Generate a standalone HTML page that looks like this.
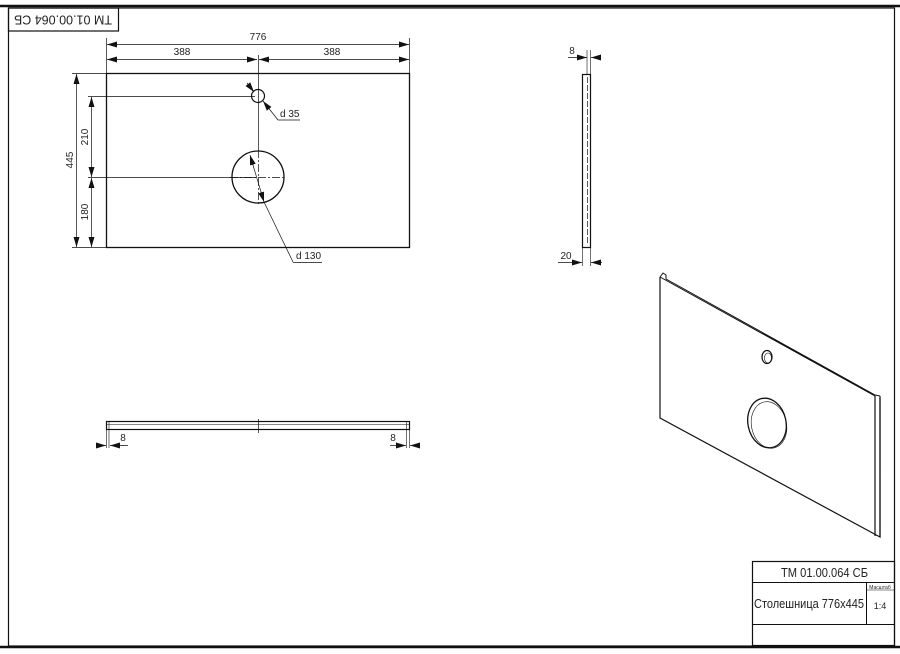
<!DOCTYPE html>
<html><head><meta charset="utf-8"><style>body{margin:0;background:#fff}svg{display:block}text{font-family:"Liberation Sans",sans-serif;fill:#222}</style></head><body>
<svg width="900" height="654" viewBox="0 0 900 654" xmlns="http://www.w3.org/2000/svg">
<defs><marker id="a" viewBox="0 0 10 6" refX="10" refY="3" markerWidth="10" markerHeight="6" orient="auto-start-reverse" markerUnits="userSpaceOnUse"><path d="M0,0L10,3L0,6z" fill="#111"/></marker></defs>
<g stroke="#111" fill="none">
<line x1="0" y1="6" x2="900" y2="6" stroke-width="2.5"/>
<line x1="0" y1="647" x2="900" y2="647" stroke-width="2.5"/>
<rect x="8.5" y="8" width="886" height="638" stroke-width="1.2"/>
<rect x="8.5" y="8" width="110" height="23" stroke-width="1.2"/>
<rect x="752.5" y="561.5" width="142" height="84" stroke-width="1.2"/>
<line x1="752" y1="582.5" x2="895" y2="582.5"/>
<line x1="752" y1="624.5" x2="895" y2="624.5"/>
<line x1="866.5" y1="582" x2="866.5" y2="624"/>
<line x1="866" y1="590" x2="895" y2="590" stroke-width="0.6"/>
<rect x="106.5" y="73.5" width="303" height="174" stroke-width="1.3"/>
<line x1="106.5" y1="38" x2="106.5" y2="73" stroke-width="0.7"/>
<line x1="409.5" y1="38" x2="409.5" y2="73" stroke-width="0.7"/>
<line x1="107" y1="44.5" x2="409" y2="44.5" stroke-width="0.7" marker-start="url(#a)" marker-end="url(#a)"/>
<line x1="107" y1="59.5" x2="257" y2="59.5" stroke-width="0.7" marker-start="url(#a)" marker-end="url(#a)"/>
<line x1="259" y1="59.5" x2="409" y2="59.5" stroke-width="0.7" marker-start="url(#a)" marker-end="url(#a)"/>
<line x1="258.5" y1="55" x2="258.5" y2="150" stroke-width="0.7"/>
<line x1="258.5" y1="150" x2="258.5" y2="206" stroke-width="0.7" stroke-dasharray="8,2,2,2"/>
<line x1="230" y1="177.5" x2="286" y2="177.5" stroke-width="0.7" stroke-dasharray="8,2,2,2"/>
<circle cx="258" cy="96" r="6.5" stroke-width="1.2"/>
<circle cx="258" cy="177" r="26" stroke-width="1.3"/>
<line x1="72" y1="73.5" x2="106" y2="73.5" stroke-width="0.7"/>
<line x1="72" y1="247.5" x2="106" y2="247.5" stroke-width="0.7"/>
<line x1="88" y1="96.5" x2="255" y2="96.5" stroke-width="0.7"/>
<line x1="88" y1="177.5" x2="256" y2="177.5" stroke-width="0.7"/>
<line x1="76.5" y1="74" x2="76.5" y2="247" stroke-width="0.7" marker-start="url(#a)" marker-end="url(#a)"/>
<line x1="91.5" y1="97" x2="91.5" y2="177" stroke-width="0.7" marker-start="url(#a)" marker-end="url(#a)"/>
<line x1="91.5" y1="178" x2="91.5" y2="247" stroke-width="0.7" marker-start="url(#a)" marker-end="url(#a)"/>
<line x1="247" y1="83" x2="254" y2="92" stroke-width="0.7" marker-end="url(#a)"/>
<line x1="263" y1="101" x2="278" y2="120" stroke-width="0.7" marker-start="url(#a)"/>
<line x1="278" y1="120" x2="300" y2="120" stroke-width="0.7"/>
<line x1="250" y1="155" x2="264" y2="202" stroke-width="0.7" marker-start="url(#a)" marker-end="url(#a)"/>
<line x1="264" y1="202" x2="293" y2="262" stroke-width="0.7"/>
<line x1="293" y1="262.5" x2="322" y2="262.5" stroke-width="0.7"/>
<rect x="582.5" y="74.5" width="8" height="173" stroke-width="1.2"/>
<line x1="587.5" y1="77" x2="587.5" y2="245" stroke-width="0.7" stroke-dasharray="6,2"/>
<line x1="587" y1="50" x2="587" y2="74" stroke-width="0.6"/>
<line x1="590.5" y1="50" x2="590.5" y2="74" stroke-width="0.6"/>
<line x1="568" y1="57.5" x2="587" y2="57.5" stroke-width="0.7" marker-end="url(#a)"/>
<line x1="600" y1="57.5" x2="591" y2="57.5" stroke-width="0.7" marker-end="url(#a)"/>
<line x1="582.5" y1="247" x2="582.5" y2="266" stroke-width="0.6"/>
<line x1="590.5" y1="247" x2="590.5" y2="266" stroke-width="0.6"/>
<line x1="558" y1="262.5" x2="582" y2="262.5" stroke-width="0.7" marker-end="url(#a)"/>
<line x1="602" y1="262.5" x2="591" y2="262.5" stroke-width="0.7" marker-end="url(#a)"/>
<rect x="106.5" y="421.5" width="303" height="8" stroke-width="1.2"/>
<line x1="107" y1="424.5" x2="409" y2="424.5" stroke-width="0.6"/>
<line x1="109" y1="421" x2="109" y2="430" stroke-width="0.6"/>
<line x1="406.5" y1="421" x2="406.5" y2="430" stroke-width="0.6"/>
<line x1="258.5" y1="419" x2="258.5" y2="433" stroke-width="0.7"/>
<line x1="106.5" y1="430" x2="106.5" y2="448" stroke-width="0.6"/>
<line x1="109" y1="430" x2="109" y2="448" stroke-width="0.6"/>
<line x1="96" y1="445.5" x2="106" y2="445.5" stroke-width="0.7" marker-end="url(#a)"/>
<line x1="128" y1="445.5" x2="110" y2="445.5" stroke-width="0.7" marker-end="url(#a)"/>
<line x1="406.5" y1="430" x2="406.5" y2="448" stroke-width="0.6"/>
<line x1="409.5" y1="430" x2="409.5" y2="448" stroke-width="0.6"/>
<line x1="390" y1="445.5" x2="406" y2="445.5" stroke-width="0.7" marker-end="url(#a)"/>
<line x1="420" y1="445.5" x2="410" y2="445.5" stroke-width="0.7" marker-end="url(#a)"/>
<path d="M660,277 L660,418 L880,537 L880,398" stroke-width="1.2"/>
<path d="M660,277 L875,396 M660,277 L663,273 L666,275 L666,279 L875,395 L880,396" stroke-width="1"/>
<path d="M875,396 L875,536 M880,396 L880,537" stroke-width="1.2"/>
<ellipse cx="767" cy="357" rx="5" ry="6.5" stroke-width="1.2"/>
<ellipse cx="768" cy="358" rx="3.5" ry="5" stroke-width="0.6"/>
<ellipse cx="767" cy="423" rx="19" ry="25" transform="rotate(-12 767 423)" stroke-width="1.3"/>
<ellipse cx="769" cy="425" rx="17.5" ry="23.5" transform="rotate(-12 769 425)" stroke-width="0.6"/>
</g>
<g font-size="10">
<text x="258" y="40" text-anchor="middle">776</text>
<text x="182" y="55" text-anchor="middle">388</text>
<text x="332" y="55" text-anchor="middle">388</text>
<text x="280" y="117">d 35</text>
<text x="296" y="259">d 130</text>
<text transform="translate(73,160) rotate(-90)" text-anchor="middle">445</text>
<text transform="translate(88,137) rotate(-90)" text-anchor="middle">210</text>
<text transform="translate(88,212) rotate(-90)" text-anchor="middle">180</text>
<text x="572" y="54" text-anchor="middle">8</text>
<text x="566" y="259" text-anchor="middle">20</text>
<text x="123" y="441" text-anchor="middle">8</text>
<text x="393" y="441" text-anchor="middle">8</text>
</g>
<text transform="translate(63,19) rotate(180)" x="-49" textLength="98" lengthAdjust="spacingAndGlyphs" dominant-baseline="middle" font-size="13">TM 01.00.064 СБ</text>
<text x="781" y="577" textLength="87" lengthAdjust="spacingAndGlyphs" font-size="12.5">ТМ 01.00.064 СБ</text>
<text x="754" y="608" textLength="110" lengthAdjust="spacingAndGlyphs" font-size="12.5">Столешница 776х445</text>
<text x="880" y="589" text-anchor="middle" font-size="5">Масштаб</text>
<text x="880" y="609" text-anchor="middle" font-size="9">1:4</text>
</svg>
</body></html>
